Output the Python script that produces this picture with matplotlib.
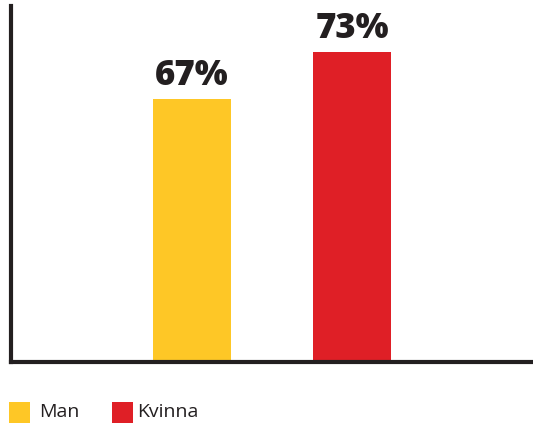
import matplotlib
matplotlib.use("Agg")
import matplotlib.pyplot as plt
from matplotlib.patches import Rectangle

# survey share by gender
groups = ["Man", "Kvinna"]
shares = [67, 73]
colors = ["#fec726", "#df1f26"]
ink = "#231f20"

W, H = 533, 423
fig = plt.figure(figsize=(W / 100, H / 100), dpi=100)
ax = fig.add_axes([10.5 / W, (H - 361.5) / H, 1 - 10.5 / W, (361.5 - 6) / H])

x = [0, 1]
ax.bar(x, shares, width=0.49, color=colors, zorder=2)
ax.set_xlim(-1.134, 2.131)
ax.set_ylim(33.6, 78.9)

for xi, v in zip(x, shares):
    ax.annotate(f"{v}%", (xi, v), xytext=(0, 4), textcoords="offset points",
                ha="center", va="bottom", fontsize=25, fontweight=800,
                family="Open Sans", color=ink)

for side in ["top", "right"]:
    ax.spines[side].set_visible(False)
for side in ["left", "bottom"]:
    ax.spines[side].set_color(ink)
    ax.spines[side].set_linewidth(3)
ax.set_xticks([])
ax.set_yticks([])

# legend: colour squares along the bottom edge
key_x = [9, 112]
text_x = [39, 137]
for kx, tx, label, c in zip(key_x, text_x, groups, colors):
    fig.add_artist(Rectangle((kx / W, 0), 21 / W, 21 / H, transform=fig.transFigure,
                             facecolor=c, edgecolor="none"))
    fig.text(tx / W, 11 / H, label, ha="left", va="center",
             fontsize=14, family="Open Sans", color=ink)

fig.savefig("out.png", dpi=100)
